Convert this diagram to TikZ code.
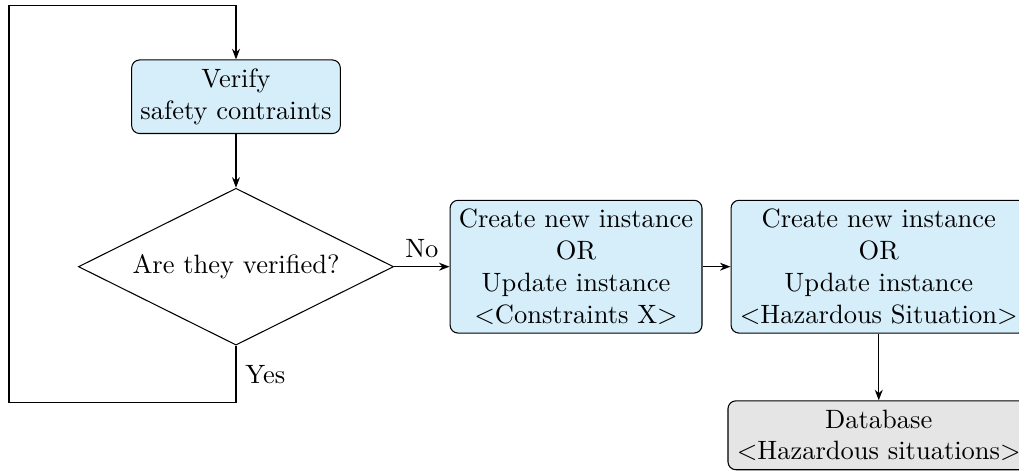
\documentclass[tikz,border=0pt]{standalone}
\usetikzlibrary{shapes.geometric,arrows.meta}
\definecolor{boxblue}{RGB}{213,238,250}
\begin{document}
\begin{tikzpicture}[
  proc/.style={draw, rounded corners=3pt, fill=boxblue, align=center},
  store/.style={draw, rounded corners=3pt, fill=gray!20, align=center},
  decision/.style={draw, diamond, aspect=2, inner sep=0pt, minimum width=4.18cm, minimum height=2.08cm},
  flow/.style={-{Stealth[length=4pt,width=3pt]}}
]
  \useasboundingbox (0,0) rectangle (13.515,6.273);
  % Check
  \node[proc] (verify) at (3.13,4.99) {Verify\\safety contraints};
  \node[decision] (check) at (3.13,2.736) {Are they verified?};
  % Instances
  \node[proc] (cons) at (7.64,2.736) {Create new instance\\OR\\Update instance\\$<$Constraints X$>$};
  \node[proc] (haz) at (11.655,2.736) {Create new instance\\OR\\Update instance\\$<$Hazardous Situation$>$};
  \node[store] (db) at (11.655,0.50) {Database\\$<$Hazardous situations$>$};
  % Loop back
  \coordinate (loopbl) at (0.119,0.932);
  \coordinate (looptl) at (0.119,6.194);
  \draw[flow] (verify) -- (check);
  \draw[flow] (check.south) |- node[pos=0.25, right] {Yes} (loopbl) -- (looptl) -| (verify.north);
  \draw[flow] (check.east) -- node[above] {No} (cons.west);
  \draw[flow] (cons) -- (haz);
  \draw[flow] (haz) -- (db);
\end{tikzpicture}
\end{document}
